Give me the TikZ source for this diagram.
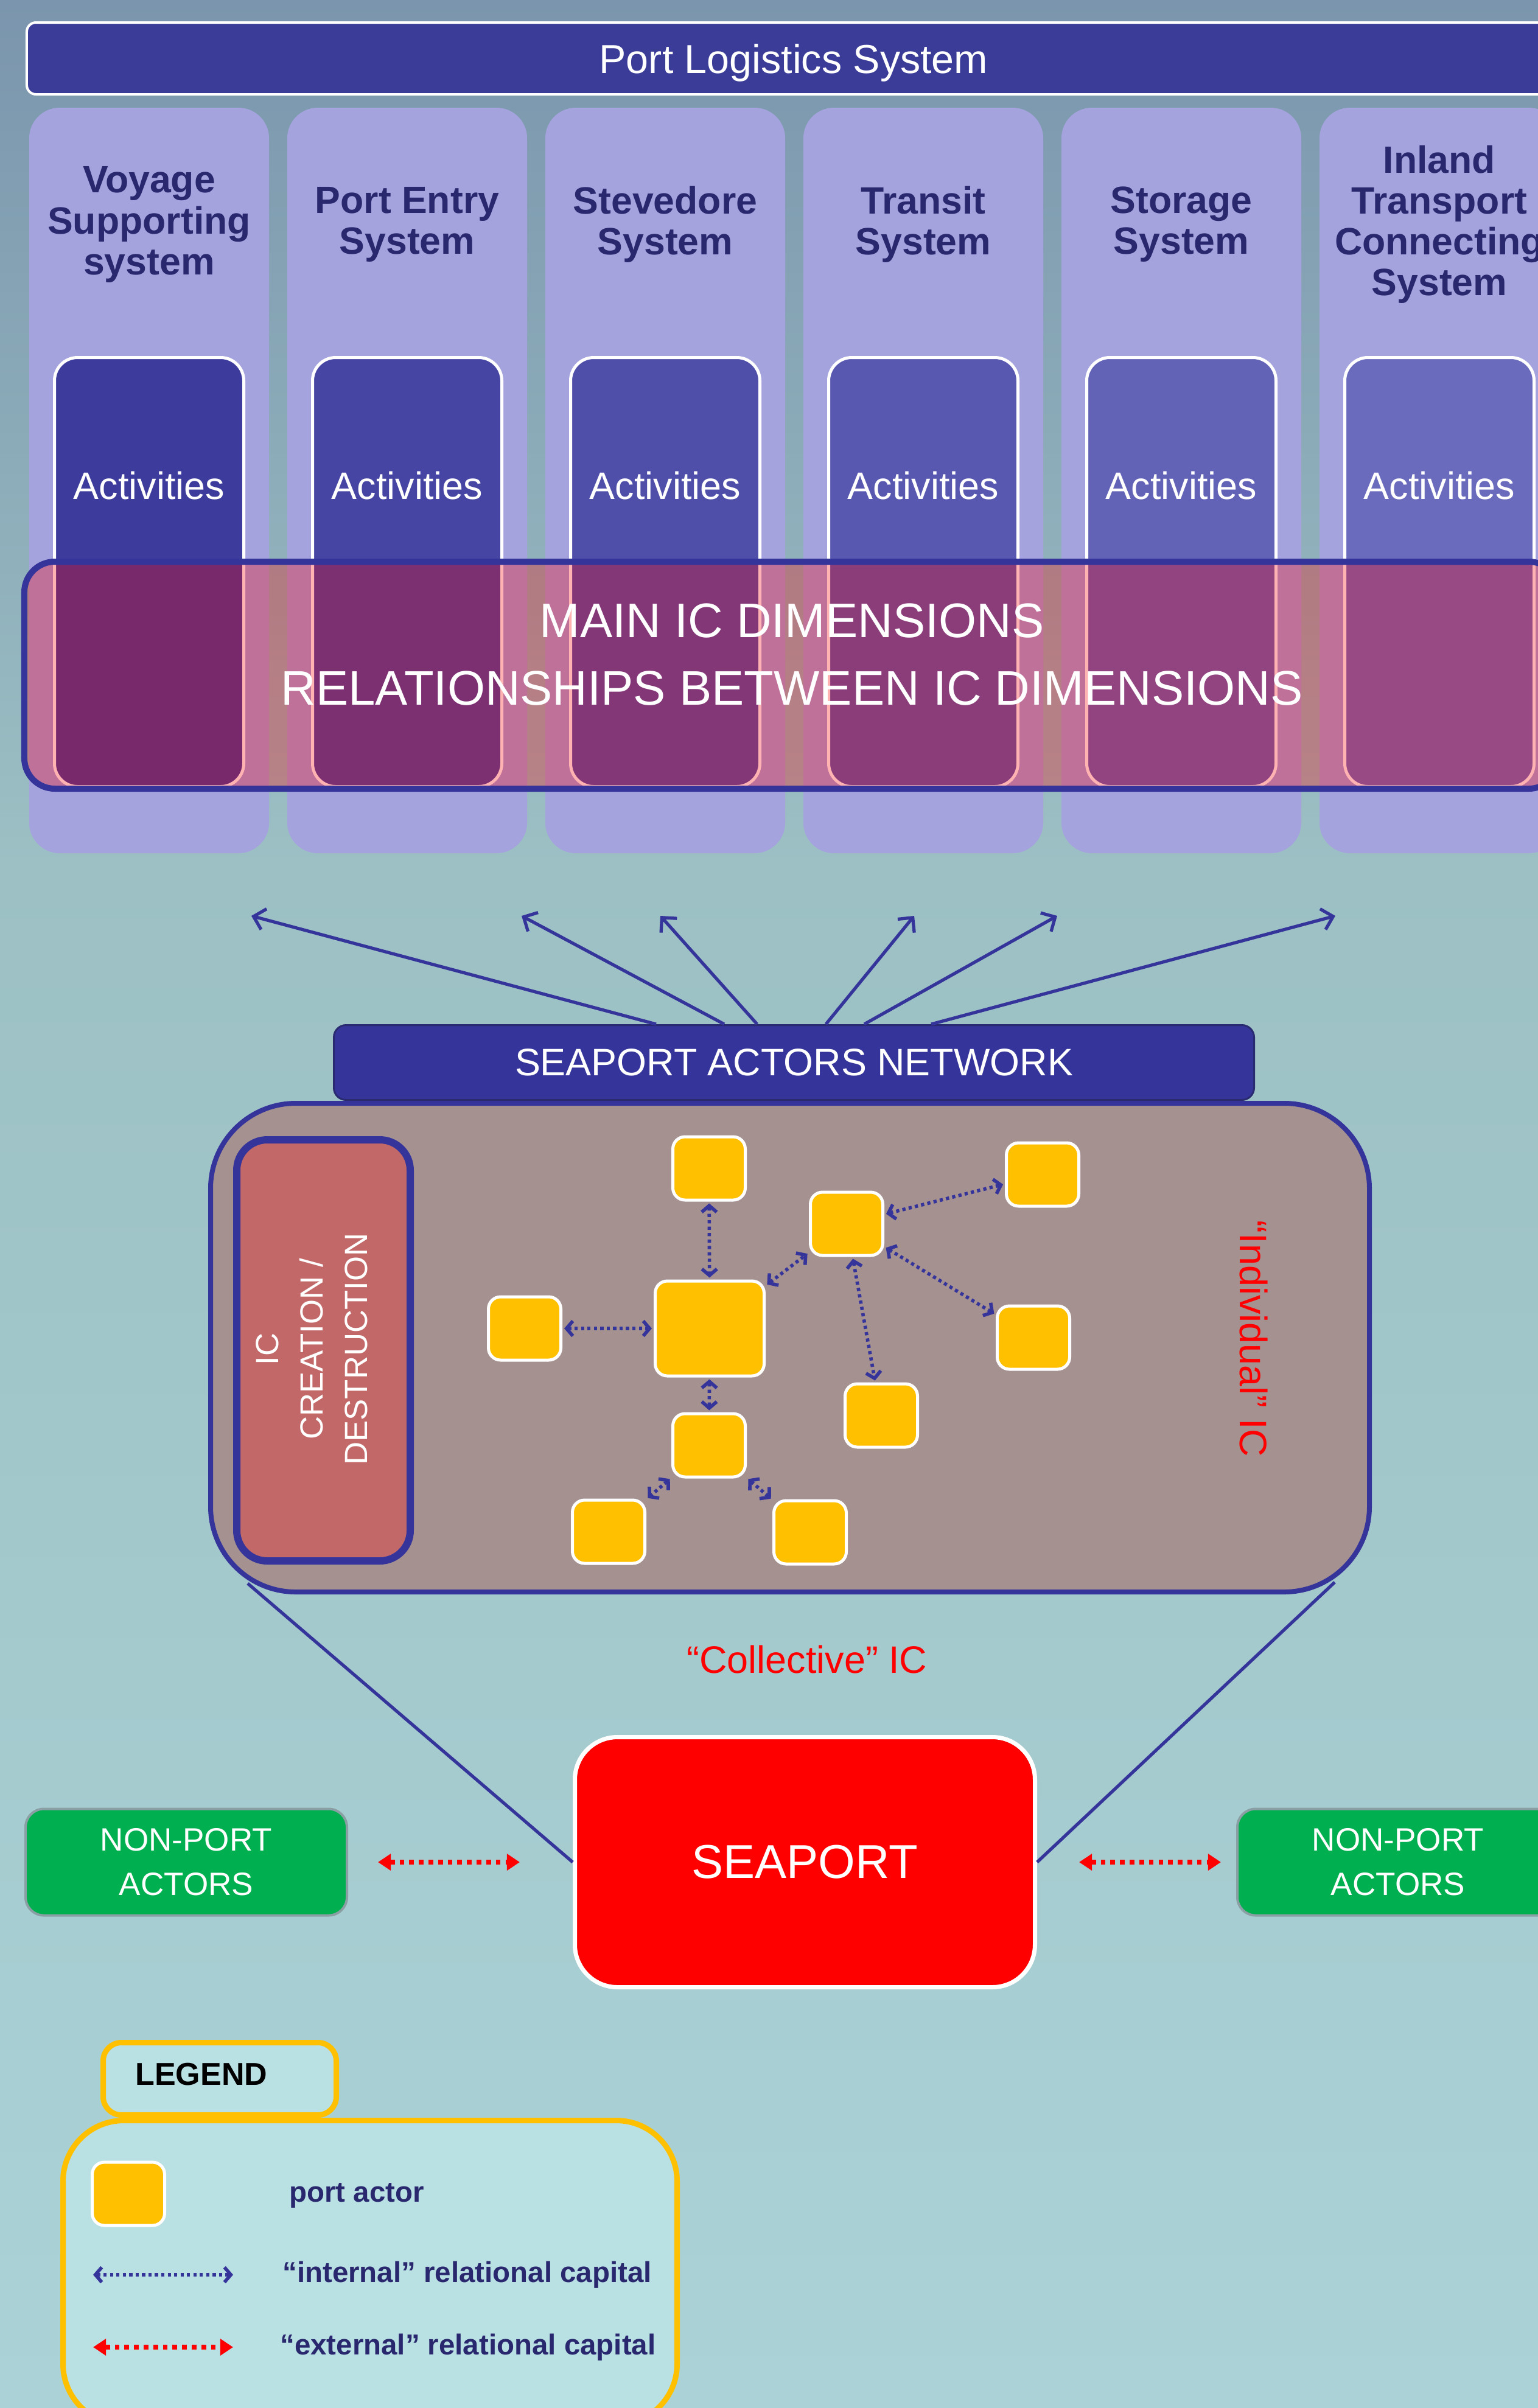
\documentclass[tikz,border=0pt]{standalone}
\usepackage{fontspec}
\setmainfont{Liberation Sans}
\usepackage{xcolor}
\usetikzlibrary{shapes,arrows.meta,positioning}

\definecolor{bgtop}{HTML}{7A95AD}
\definecolor{bgmid}{HTML}{9CC0C4}
\definecolor{bgbot}{HTML}{ABD3D7}
\definecolor{navy}{HTML}{35349A}
\definecolor{darknavy}{HTML}{2A2A70}
\definecolor{barblue}{HTML}{3A3C98}
\definecolor{lavender}{HTML}{A5A3DE}
\definecolor{actA}{HTML}{3D3C9C}
\definecolor{actB}{HTML}{6B6BBE}
\definecolor{titlenavy}{HTML}{29286F}
\definecolor{netgrey}{HTML}{A69191}
\definecolor{icred}{HTML}{C36868}
\definecolor{actorgold}{HTML}{FFC000}
\definecolor{npgreen}{HTML}{00B050}
\definecolor{npedge}{HTML}{8A9FA3}
\definecolor{legfill}{HTML}{B9E0E3}

\pgfdeclareverticalshading{bgshade}{100bp}{color(0bp)=(bgbot); color(25bp)=(bgbot);
  color(57bp)=(bgmid); color(75bp)=(bgtop); color(100bp)=(bgtop)}

\begin{document}
\begin{tikzpicture}[x=1cm, y=-1cm,
  titlebar/.style={draw=white, fill=barblue, line width=0.04cm, rounded corners=0.15cm,
    minimum width=25.20cm, minimum height=1.18cm, inner sep=0pt, text=white,
    text depth=0pt, font=\fontsize{18.9}{22}\selectfont},
  column/.style={fill=lavender, rounded corners=0.5cm, minimum width=3.94cm,
    minimum height=12.25cm, inner sep=0pt},
  coltitle/.style={text=titlenavy, align=center, font=\bfseries\fontsize{17.8}{19.1}\selectfont},
  actbox/.style={draw=white, line width=0.05cm, rounded corners=0.38cm,
    minimum width=3.11cm, minimum height=7.05cm, inner sep=0pt},
  acttext/.style={text=white, font=\fontsize{17.9}{20}\selectfont},
  band/.style={draw=navy, line width=0.1cm, fill=red, fill opacity=0.3, rounded corners=0.5cm,
    minimum width=25.22cm, minimum height=3.73cm, inner sep=0pt},
  bandtext/.style={text=white, align=center, font=\fontsize{22.7}{31.6}\selectfont},
  fan/.style={draw=navy, line width=1.5pt, -{Straight Barb[length=5pt,width=10pt]}},
  sanbar/.style={draw=darknavy, fill=navy, line width=0.03cm, rounded corners=0.2cm,
    minimum width=15.12cm, minimum height=1.23cm, inner sep=0pt, text=white,
    font=\fontsize{17.9}{20}\selectfont},
  netbox/.style={draw=navy, fill=netgrey, line width=0.08cm, rounded corners=1.4cm,
    minimum width=19.04cm, minimum height=8.03cm, inner sep=0pt},
  icbox/.style={draw=navy, fill=icred, line width=0.12cm, rounded corners=0.5cm,
    minimum width=2.85cm, minimum height=6.92cm, inner sep=0pt},
  ictext/.style={text=white, align=center, font=\fontsize{15}{20.8}\selectfont},
  actor/.style={draw=white, fill=actorgold, line width=0.05cm, rounded corners=0.2cm,
    minimum width=1.19cm, minimum height=1.04cm, inner sep=0pt},
  intarrow/.style={draw=navy, line width=1.6pt, dash pattern=on 1.5pt off 1.5pt,
    <->, >={Straight Barb[length=3pt,width=7pt]}, shorten <=0.03cm, shorten >=0.03cm},
  extarrow/.style={draw=red, line width=2.1pt, dash pattern=on 2.2pt off 2.3pt,
    <->, >={Triangle[length=6pt,width=7.5pt]}},
  redlabel/.style={text=red, font=\fontsize{17.9}{20}\selectfont},
  funnel/.style={draw=navy, line width=1.5pt},
  seaport/.style={draw=white, fill=red, line width=0.07cm, rounded corners=0.7cm,
    minimum width=7.56cm, minimum height=4.11cm, inner sep=0pt, text=white,
    font=\fontsize{22.2}{26}\selectfont},
  nonport/.style={draw=npedge, fill=npgreen, line width=0.04cm, rounded corners=0.3cm,
    minimum width=5.28cm, minimum height=1.75cm, inner sep=0pt, text=white, align=center,
    font=\fontsize{15.1}{20.8}\selectfont},
  legtab/.style={draw=actorgold, fill=legfill, line width=0.09cm, rounded corners=0.3cm,
    minimum width=3.83cm, minimum height=1.19cm, inner sep=0pt},
  legbox/.style={draw=actorgold, fill=legfill, line width=0.09cm, rounded corners=1.0cm,
    minimum width=10.09cm, minimum height=5.00cm, inner sep=0pt},
  legtext/.style={text=titlenavy, anchor=west, font=\bfseries\fontsize{13.5}{16}\selectfont}
]
\useasboundingbox (0,0) rectangle (25.27,39.57);

% Background
\shade[shading=bgshade] (0,0) rectangle (25.27,39.57);

% Port logistics system
\node[titlebar] (pls) at (13.04,0.96) {Port Logistics System};

\foreach \i/\ttl in {1/{Voyage\\Supporting\\system}, 2/{Port Entry\\System},
    3/{Stevedore\\System}, 4/{Transit\\System}, 5/{Storage\\System},
    6/{Inland\\Transport\\Connecting\\System}} {
  \pgfmathsetmacro{\cx}{2.45+4.24*(\i-1)}
  \pgfmathtruncatemacro{\mix}{20*(\i-1)}
  \node[column] (col\i) at (\cx,7.895) {};
  \node[coltitle] (ttl\i) at (\cx,3.69) {\ttl};
  \node[actbox, fill=actB!\mix!actA] (act\i) at (\cx,9.40) {};
  \node[acttext] (acl\i) at (\cx,7.98) {Activities};
}

% IC dimensions band
\node[band] (icdim) at (13.01,11.095) {};
\node[bandtext] (dimtxt) at (13.01,10.755) {MAIN IC DIMENSIONS\\RELATIONSHIPS BETWEEN IC DIMENSIONS};

% Seaport actors network
\node[netbox] (net) at (12.98,22.145) {};
\node[sanbar] (san) at (13.045,17.46) {SEAPORT ACTORS NETWORK};

\foreach \dx/\tx [count=\k] in {-2.265/4.13, -1.145/8.57, -0.605/10.85, 0.525/15.02, 1.155/17.37, 2.255/21.94} {
  \coordinate (tip\k) at (\tx,15.05);
  \draw[fan] ([xshift=\dx cm]san.north) -- (tip\k);
}

% IC creation / destruction
\node[icbox] (icbox) at (5.315,22.19) {};
\node[ictext, rotate=90] (ictxt) at (5.12,22.17) {IC\\CREATION /\\DESTRUCTION};

% Port actors
\node[actor] (acTop) at (11.65,19.20) {};
\node[actor, minimum width=1.79cm, minimum height=1.56cm] (acHub) at (11.66,21.83) {};
\node[actor] (acLeft) at (8.62,21.83) {};
\node[actor] (acMid) at (11.65,23.75) {};
\node[actor] (acBL) at (10.00,25.17) {};
\node[actor] (acBR) at (13.31,25.18) {};
\node[actor] (acHub2) at (13.91,20.11) {};
\node[actor] (acTR) at (17.13,19.30) {};
\node[actor] (acRM) at (16.98,21.98) {};
\node[actor] (acLM) at (14.48,23.26) {};

% Internal relations
\draw[intarrow] (acTop) -- (acHub);
\draw[intarrow] (acLeft) -- (acHub);
\draw[intarrow] (acHub) -- (acMid);
\draw[intarrow] (acMid) -- (acBL);
\draw[intarrow] (acMid) -- (acBR);
\draw[intarrow] (acHub) -- (acHub2);
\draw[intarrow] (acHub2) -- (acTR);
\draw[intarrow] (acHub2) -- (acRM);
\draw[intarrow] (acHub2) -- (acLM);

\node[redlabel, rotate=-90] (indiv) at (20.60,22.00) {“Individual” IC};

% Seaport and collective IC
\node[redlabel] (coll) at (13.26,27.27) {“Collective” IC};
\node[seaport] (sp) at (13.225,30.60) {SEAPORT};
\coordinate (netL) at (4.07,26.02);
\coordinate (netR) at (21.93,26.00);
\draw[funnel] (netL) -- (sp.west);
\draw[funnel] (netR) -- (sp.east);

% Non-port actors
\node[nonport] (npL) at (3.06,30.60) {NON-PORT\\ACTORS};
\node[nonport] (npR) at (22.97,30.60) {NON-PORT\\ACTORS};
\draw[extarrow, shorten <=0.49cm, shorten >=0.87cm] (npL) -- (sp);
\draw[extarrow, shorten <=0.69cm, shorten >=0.25cm] (sp) -- (npR);

% Legend
\node[legtab] (legtab) at (3.61,34.16) {};
\node[legbox] (legbox) at (6.08,37.345) {};
\node[anchor=west, font=\bfseries\fontsize{14.8}{17}\selectfont] (legtitle) at (2.10,34.09) {LEGEND};
\node[actor] (legactor) at (2.11,36.05) {};
\node[legtext] (legport) at (4.63,36.08) {port actor};
\coordinate (li1) at (1.53,37.38);
\coordinate (li2) at (3.83,37.38);
\draw[intarrow, shorten <=0cm, shorten >=0cm] (li1) -- (li2);
\node[legtext] (legint) at (4.52,37.38) {“internal” relational capital};
\coordinate (le1) at (1.53,38.57);
\coordinate (le2) at (3.83,38.57);
\draw[extarrow] (le1) -- (le2);
\node[legtext] (legext) at (4.48,38.57) {“external” relational capital};
\end{tikzpicture}
\end{document}
